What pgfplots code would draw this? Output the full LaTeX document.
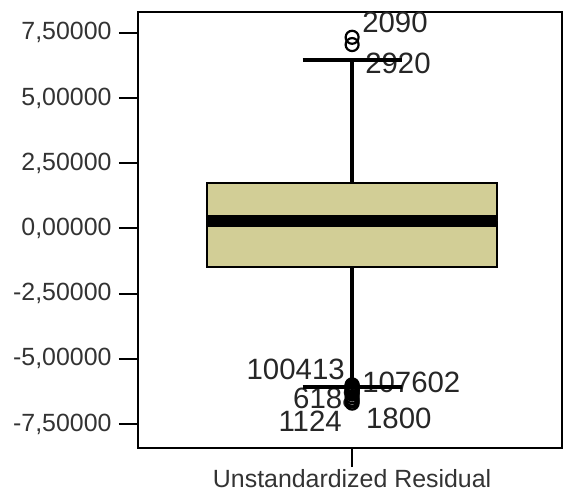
\documentclass[border=0pt]{standalone}
\usepackage{fontspec}
\setmainfont{Liberation Sans}
\usepackage{pgfplots}
\pgfplotsset{compat=1.18}
\usepgfplotslibrary{statistics}
\definecolor{boxfill}{RGB}{210,206,150}
\begin{document}
\begin{tikzpicture}
\useasboundingbox (-138bp,-46bp) rectangle (426bp,448bp);
\begin{axis}[
  at={(0,0)}, anchor=south west,
  width=424bp, height=436bp, scale only axis,
  xmin=0, xmax=2,
  ymin=-8.42, ymax=8.3,
  axis line style={line width=2.8bp},
  tick align=outside,
  major tick length=19bp,
  every tick/.style={line width=2bp, black},
  xtick={1.01}, xticklabels={Unstandardized Residual},
  xtick pos=bottom, ytick pos=left,
  ytick={-7.5,-5,-2.5,0,2.5,5,7.5},
  yticklabel style={/pgf/number format/fixed, /pgf/number format/fixed zerofill, /pgf/number format/precision=5, /pgf/number format/use comma, /pgf/number format/assume math mode=true, xshift=-4bp},
  ticklabel style={font=\fontsize{25}{29}\selectfont, text=black!80},
  xticklabel style={yshift=1bp},
  boxplot/draw direction=y,
  clip=false,
]
\begin{scope}[font=\fontsize{29.5}{33}\selectfont, text=black!85, inner sep=0pt]
\node[anchor=west] at (axis cs:1.057,7.92) {2090};
\node[anchor=west] at (axis cs:1.071,6.31) {2920};
\node[anchor=east] at (axis cs:0.976,-5.40) {100413};
\node[anchor=west] at (axis cs:1.057,-5.90) {107602};
\node[anchor=west] at (axis cs:0.731,-6.51) {6188};
\node[anchor=east] at (axis cs:0.962,-7.39) {1124};
\node[anchor=west] at (axis cs:1.075,-7.28) {1800};
\end{scope}
\addplot[
  boxplot prepared={
    draw position=1.01,
    median=0.29,
    upper quartile=1.76,
    lower quartile=-1.46,
    upper whisker=6.47,
    lower whisker=-6.09,
    box extend=1.37,
    whisker extend=0.467,
  },
  draw=black, line width=2bp, fill=boxfill,
  boxplot/every whisker/.style={line width=3.6bp},
  boxplot/every median/.style={line width=12bp},
] coordinates {};
\addplot[only marks, mark=o, mark size=6.5bp, mark options={line width=2.2bp, black}] coordinates {
(1.01,7.33) (1.01,7.05)
(1.01,-6.00) (1.01,-6.03) (1.01,-6.06) (1.01,-6.10) (1.01,-6.13) (1.01,-6.17) (1.01,-6.20) (1.01,-6.25) (1.01,-6.30) (1.01,-6.35) (1.01,-6.45) (1.01,-6.55) (1.01,-6.62) (1.01,-6.70)
};
\end{axis}
\end{tikzpicture}
\end{document}
